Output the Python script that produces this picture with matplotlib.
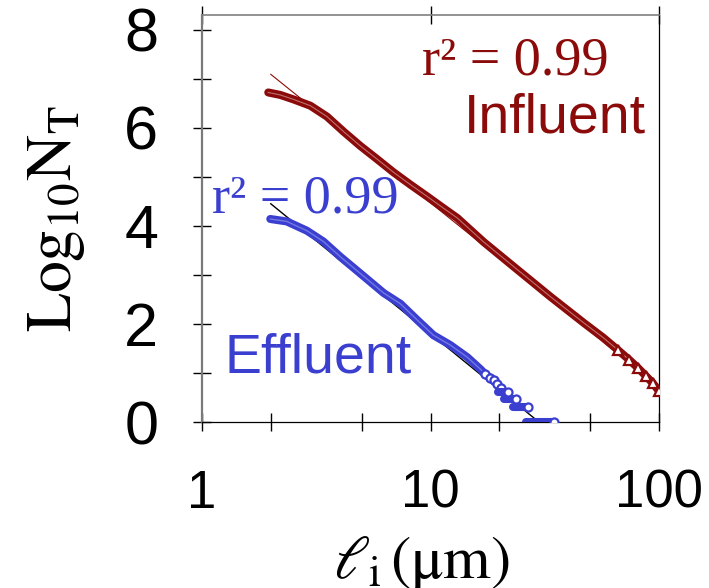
import numpy as np
import matplotlib.pyplot as plt

plt.rcParams['mathtext.fontset'] = 'stix'
plt.rcParams['font.family'] = ['Liberation Sans', 'DejaVu Sans']

# influent: cumulative count above size l_i (um), log10 scale
inf_size = [1.95, 2.2, 2.51, 2.98, 3.52, 4.17, 4.93, 5.84, 6.9, 8.17, 9.67, 11.4,
            13.1, 17.1, 24.1, 33.6, 46.9, 57.0, 66.0, 74.0, 81.0, 88.0, 94.0, 100.0]
inf_logN = [6.72, 6.67, 6.58, 6.45, 6.23, 5.92, 5.63, 5.36, 5.09, 4.84, 4.60, 4.36,
            4.16, 3.67, 3.10, 2.55, 2.02, 1.72, 1.47, 1.27, 1.10, 0.93, 0.79, 0.63]

# effluent, smooth part then the single-count steps
eff_size = [1.99, 2.35, 2.88, 3.4, 4.03, 4.93, 6.24, 7.39, 8.75, 10.3, 12.2, 14.5,
            16.6, 17.4, 18.3, 19.0, 19.5, 20.3]
eff_logN = [4.14, 4.09, 3.90, 3.68, 3.37, 3.03, 2.63, 2.41, 2.08, 1.77, 1.57, 1.32,
            1.07, 0.97, 0.90, 0.85, 0.78, 0.70]
step_logN = [0.602, 0.477, 0.301, 0.0]
step_start = [19.7, 20.9, 22.9, 26.1]
step_end = [21.8, 23.6, 26.6, 34.6]

# power-law fits
inf_fit_x = [2.0, 100.0]
inf_fit_y = [7.09, 0.72]
eff_fit_x = [2.0, 29.8]
eff_fit_y = [4.45, 0.0]

red = '#8b0a0a'
red_light = '#c07070'
blue = '#3a3fd0'
blue_light = '#7478e4'

fig = plt.figure(figsize=(7.09, 5.88), dpi=100)
ax = fig.add_axes([0.2849, 0.2823, 0.6446, 0.6922])

ax.plot(inf_fit_x, inf_fit_y, color=red, lw=0.8, zorder=2)
ax.plot(eff_fit_x, eff_fit_y, color='black', lw=1.0, zorder=2)

# influent band
ax.plot(inf_size, inf_logN, color=red, lw=5.8, solid_capstyle='round',
        solid_joinstyle='round', zorder=3)
ax.plot(inf_size, inf_logN, color=red_light, lw=0.8, zorder=4)
tail = [i for i, x in enumerate(inf_size) if x >= 60]
ax.plot([inf_size[i] for i in tail], [inf_logN[i] for i in tail], ls='none',
        marker='^', ms=6.5, mfc='white', mec=red, mew=1.6, zorder=5)

# effluent band
ax.plot(eff_size, eff_logN, color=blue, lw=5.8, solid_capstyle='round',
        solid_joinstyle='round', zorder=3)
ax.plot(eff_size, eff_logN, color=blue_light, lw=1.0, zorder=4)
low = [i for i, v in enumerate(eff_logN) if v < 1.05]
ax.plot([eff_size[i] for i in low], [eff_logN[i] for i in low], ls='none',
        marker='o', ms=5.8, mfc='white', mec=blue, mew=1.6, zorder=5)
for y, x0, x1 in zip(step_logN, step_start, step_end):
    ax.plot([x0, x1], [y, y], color=blue, lw=5.8, solid_capstyle='round', zorder=5)
    ax.plot([x1], [y], ls='none', marker='o', ms=5.8, mfc='white', mec=blue,
            mew=1.6, zorder=6)

ax.set_xscale('log')
ax.set_xlim(1, 100)
ax.set_ylim(0, 8.3)
ax.set_xticks([1, 10, 100])
ax.set_xticklabels(['1', '10', '100'])
ax.set_xticks([2, 5, 20, 50], minor=True)
ax.set_xticklabels([], minor=True)
ax.set_yticks([0, 2, 4, 6, 8])
ax.set_yticks([1, 3, 5, 7], minor=True)

ax.tick_params(which='both', direction='inout', length=13, width=1, color='black')
ax.tick_params(axis='x', which='major', labelsize=38, pad=27, top=True)
ax.tick_params(axis='y', labelsize=44, pad=25)

ax.spines['left'].set_color('#7a7a7a')
ax.spines['left'].set_linewidth(1.6)
ax.spines['top'].set_color('#808080')
ax.spines['top'].set_linewidth(1.2)
ax.spines['bottom'].set_linewidth(0.9)
ax.spines['right'].set_linewidth(0.9)

ax.set_ylabel(r'$\mathrm{Log_{10}N_T}$', fontsize=46)
ax.yaxis.set_label_coords(-0.252, 0.5)
ax.set_xlabel(r'$\ell_{\mathrm{i}}\,(\mathrm{\mu m})$', fontsize=44)
ax.xaxis.set_label_coords(0.48, -0.275)
ax.xaxis.label.set_va('top')

serif = ['Liberation Serif', 'DejaVu Serif']
ax.text(9.2, 7.08, 'r² = 0.99', color=red, fontsize=39, family=serif,
        va='baseline', ha='left')
ax.text(13.95, 5.9, 'Influent', color=red, fontsize=40, va='baseline', ha='left')
ax.text(1.106, 4.27, 'r² = 0.99', color=blue, fontsize=39, family=serif,
        va='baseline', ha='left')
ax.text(1.249, 1.0, 'Effluent', color=blue, fontsize=40, va='baseline', ha='left')

fig.savefig('out.png', dpi=100)
